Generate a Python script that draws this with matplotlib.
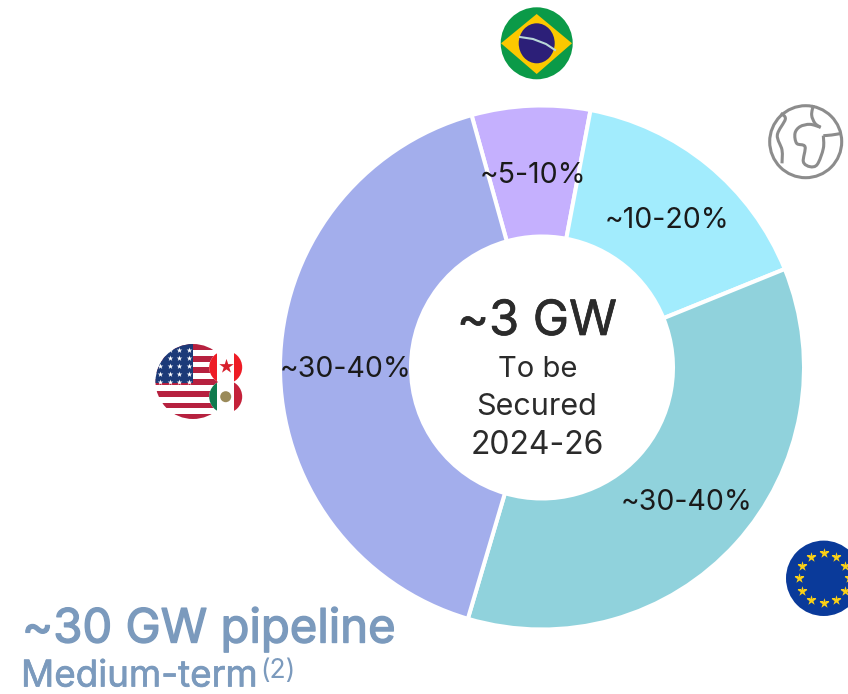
"""pipeline donut by region"""
import matplotlib
matplotlib.use("Agg")
import matplotlib.pyplot as plt
import matplotlib.patheffects as pe
from matplotlib.patches import Circle, Polygon, Rectangle, Ellipse, PathPatch
from matplotlib.path import Path
import numpy as np

plt.rcParams['font.family'] = ['Inter', 'DejaVu Sans']

regions = ['Brazil', 'Rest of world', 'Europe', 'North America']
shares = [7.3, 15.9, 35.7, 41.1]
labels = ['~5-10%', '~10-20%', '~30-40%', '~30-40%']
colors = ['#c5b0fe', '#a2ecfd', '#90d2dc', '#a3aeec']

W, H = 848, 694
fig = plt.figure(figsize=(W / 100, H / 100), dpi=100)
ax = fig.add_axes([0, 0, 1, 1])


def py(y):
    # picture y (from top) to axes y
    return H - y


def disc(cx, cy, r, color='white', z=3):
    c = Circle((cx, py(cy)), r, fc=color, ec='none', zorder=z)
    ax.add_patch(c)
    return c


def clipped(patch, clip):
    patch.set_zorder(clip.get_zorder() + 0.5)
    ax.add_patch(patch)
    patch.set_clip_path(clip)
    return patch


def rect(x0, y0, x1, y1, color, clip):
    return clipped(Rectangle((x0, py(y1)), x1 - x0, y1 - y0, fc=color, ec='none'), clip)


def smooth(points):
    # catmull-rom through the points, as bezier segments
    pts = np.array(points, dtype=float)
    verts = [pts[0]]
    codes = [Path.MOVETO]
    for i in range(len(pts) - 1):
        p0 = pts[max(i - 1, 0)]
        p1 = pts[i]
        p2 = pts[i + 1]
        p3 = pts[min(i + 2, len(pts) - 1)]
        verts += [p1 + (p2 - p0) / 6, p2 - (p3 - p1) / 6, p2]
        codes += [Path.CURVE4] * 3
    return Path(verts, codes)


wedges, _ = ax.pie(shares, colors=colors, center=(542, py(367.5)), radius=262,
                   startangle=105.6, counterclock=False, frame=True,
                   wedgeprops=dict(width=131, edgecolor='white', linewidth=2.9))
ax.set_xlim(0, W)
ax.set_ylim(0, H)
ax.set_aspect('equal')
ax.axis('off')

# slice labels
label_pos = [(533, 175), (667, 220), (687, 503), (346, 369)]
for t, (x, y) in zip(labels, label_pos):
    ax.text(x, py(y), t, fontsize=20.5, color='#1a1a1a', ha='center', va='center', zorder=5)

# centre text
thick = [pe.withStroke(linewidth=0.5, foreground='#2b2b2b')]
ax.text(537, py(322), '~3 GW', fontsize=35, color='#2b2b2b', ha='center', va='center', path_effects=thick)
ax.text(538, py(369), 'To be', fontsize=21, color='#2b2b2b', ha='center', va='center')
ax.text(537, py(407), 'Secured', fontsize=22, color='#2b2b2b', ha='center', va='center')
ax.text(537, py(445), '2024-26', fontsize=23, color='#2b2b2b', ha='center', va='center')

# pipeline title
bold = [pe.withStroke(linewidth=1.0, foreground='#7b9abd')]
ax.text(22, py(630), '~30 GW pipeline', fontsize=34, color='#7b9abd',
        ha='left', va='center', path_effects=bold)
ax.text(21, py(677), 'Medium-term', fontsize=26.5, color='#7b9abd', ha='left', va='center',
        path_effects=[pe.withStroke(linewidth=0.5, foreground='#7b9abd')])
ax.text(260, py(671), '(2)', fontsize=19, color='#7b9abd', ha='left', va='center')

# USA
us = disc(193, 381.5, 37.5, z=3)
for i in range(7):
    rect(150, 344 + i * 11.7, 240, 344 + i * 11.7 + 5.8, '#b6213f', us)
rect(150, 344, 193, 383, '#1c3a78', us)
star_x = [x for x in np.arange(160, 192, 9.5)] * 5
star_y = [y for y in np.arange(350, 386, 8) for _ in range(4)]
s = ax.scatter(star_x, [py(v) for v in star_y], marker='*', s=18, c='white', linewidths=0, zorder=3.8)
s.set_clip_path(us)

# Canada
ca = disc(225.7, 367.3, 16.5, z=5)
rect(205, 350, 217.3, 385, '#ee1c25', ca)
rect(234.2, 350, 246, 385, '#ee1c25', ca)
ax.scatter([225.7], [py(366)], marker='*', s=120, c='#d8202c', linewidths=0, zorder=5.8)

# Mexico
mx = disc(225.7, 396.7, 16.5, z=6)
rect(205, 380, 217.3, 414, '#0f7a4d', mx)
rect(234.2, 380, 246, 414, '#c4213a', mx)
ax.add_patch(Ellipse((225.7, py(396.7)), 11, 11, fc='#9a8a5a', ec='none', zorder=6.8))

# Brazil
br = disc(536.7, 43.3, 36, '#0b9a48')
clipped(Polygon([(501, py(43.3)), (536.7, py(14)), (572, py(43.3)), (536.7, py(74))],
                fc='#fcc800', ec='none'), br)
ax.add_patch(Ellipse((536.7, py(43.3)), 36, 40, fc='#2c1f78', ec='none', zorder=5))
ax.plot([520, 533, 546, 555], [py(37), py(39), py(44), py(50)], color='#b9d8d8', lw=1.5, zorder=6)

# EU
eu = disc(823.7, 578.3, 37.7, '#0a3a9a')
angles = np.deg2rad(np.arange(0, 360, 30))
s = ax.scatter(823.7 + 25 * np.cos(angles), py(578.3) + 25 * np.sin(angles), marker='*', s=58,
               c='#fcd116', linewidths=0, zorder=5)
s.set_clip_path(eu)

# rest of world globe
gc = Circle((805.7, py(141.7)), 36, fc='white', ec='#8c8c8c', lw=2.2, zorder=3)
ax.add_patch(gc)
left = [(62, 55), (76, 72), (52, 120), (66, 165), (66, 205)]
top = [(160, 30), (155, 60), (165, 85), (182, 97)]
body = [(182, 97), (150, 88), (120, 95), (105, 115), (110, 145), (135, 155),
        (130, 200), (150, 215), (172, 208), (190, 160), (190, 122)]
arm = [(190, 122), (215, 120), (245, 115)]
for line in (left, top, body, arm):
    pts = [(760 + x / 3, py(95 + y / 3)) for x, y in line]
    ax.add_patch(PathPatch(smooth(pts), fc='none', ec='#8c8c8c', lw=2.2, zorder=4))

fig.savefig('out.png', dpi=100)
